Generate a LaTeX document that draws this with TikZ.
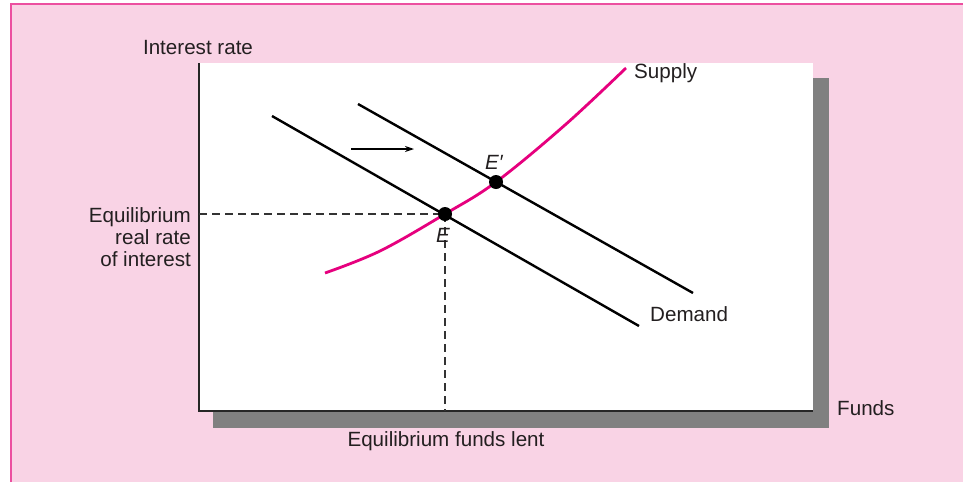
\documentclass[tikz,border=0pt]{standalone}
\usepackage{fontspec}
\setmainfont{Liberation Sans}
\usetikzlibrary{arrows.meta}
\definecolor{bgpink}{HTML}{F9D3E5}
\definecolor{framepink}{HTML}{EC4FA0}
\definecolor{supplymag}{HTML}{E6007E}
\definecolor{shadowgray}{HTML}{808080}
\definecolor{txt}{HTML}{231F20}
\begin{document}
\begin{tikzpicture}[x=1pt,y=-1pt,
  lbl/.style={font=\fontsize{20.6}{24}\selectfont, inner sep=0pt, text=txt},
  curve/.style={line width=2.4pt, black},
  supplyline/.style={line width=2.8pt, supplymag},
  guide/.style={line width=1.1pt, dash pattern=on 8pt off 5pt, black!80},
  eqdot/.style={circle, fill=black, minimum size=14pt, inner sep=0pt}]
\useasboundingbox (0,0) rectangle (963,482);
% background frame
\fill[bgpink] (11,4) rectangle (963,482);
\draw[framepink, line width=2.2pt] (11,482) -- (11,4) -- (963,4);
% plot area with shadow
\fill[shadowgray] (213,78) rectangle (829,428);
\fill[white] (199,63) rectangle (813,411);
\draw[line width=1.4pt, black!85] (199,63) -- (199,411) -- (813,411);
% coordinates
\coordinate (d1a) at (272,116);
\coordinate (d1b) at (639,326);
\coordinate (d2a) at (358,104);
\coordinate (d2b) at (693,293);
\coordinate (ax) at (199,214);
\coordinate (bx) at (445,411);
\coordinate (ar1) at (351,149);
\coordinate (ar2) at (414,149);
% dashed guides
\draw[guide] (ax) -- (445,214);
\draw[guide] (445,214) -- (bx);
% demand curves
\draw[curve] (d1a) -- (d1b);
\draw[curve] (d2a) -- (d2b);
% supply curve
\draw[supplyline] plot[smooth, tension=0.6] coordinates {(325,273) (380,251) (445,214) (496,182) (565,125) (626,68)};
% shift arrow
\draw[line width=1.2pt, -{Stealth[length=9pt,width=6pt]}] (ar1) -- (ar2);
% equilibrium points
\node[eqdot] (E) at (445,214) {};
\node[eqdot] (Ep) at (496,182) {};
\node[lbl, font=\fontsize{20.6}{24}\selectfont\itshape] (El) at (443,235) {E};
\node[lbl, font=\fontsize{20.6}{24}\selectfont\itshape] (Epl) at (494,162) {E′};
% labels
\node[lbl] (ir) at (198,48) {Interest rate};
\node[lbl, align=right, anchor=east, font=\fontsize{20.6}{22}\selectfont] (err) at (191,237) {Equilibrium\\real rate\\of interest};
\node[lbl, anchor=west] (sup) at (634,73) {Supply};
\node[lbl, anchor=west] (dem) at (650,314) {Demand};
\node[lbl, anchor=west] (fun) at (837,408) {Funds};
\node[lbl] (efl) at (446,441) {Equilibrium funds lent};
\end{tikzpicture}
\end{document}
